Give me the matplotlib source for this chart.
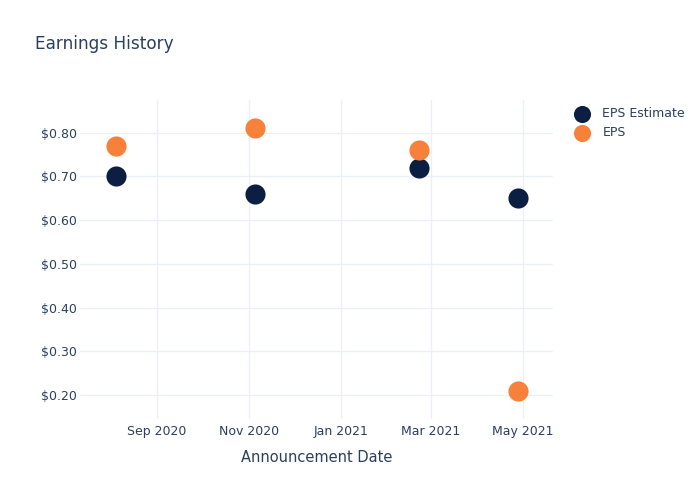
import matplotlib
matplotlib.use("Agg")
import matplotlib.pyplot as plt
import matplotlib.dates as mdates
import matplotlib.ticker as mticker
from datetime import datetime

dates = ["2020-08-05", "2020-11-05", "2021-02-21", "2021-04-28"]
eps_estimate = [0.70, 0.66, 0.72, 0.65]
eps_actual = [0.77, 0.81, 0.76, 0.21]
y_ticks = [0.20, 0.30, 0.40, 0.50, 0.60, 0.70, 0.80]
x_ticks = ["2020-09-01", "2020-11-01", "2021-01-01", "2021-03-01", "2021-05-01"]

text_color = "#2a3f5f"
grid_color = "#ebf0f8"
navy = "#0c1f42"
orange = "#f7803a"

plt.rcParams['font.family'] = ['DejaVu Sans']

fig = plt.figure(figsize=(7, 5), dpi=100)
ax = fig.add_axes([80/700, 1-419/500, (553-80)/700, (419-100)/500])

d = [datetime.strptime(s, "%Y-%m-%d") for s in dates]
ax.scatter(d, eps_estimate, s=210, color=navy, label="EPS Estimate", zorder=3, linewidths=0)
ax.scatter(d, eps_actual, s=210, color=orange, label="EPS", zorder=3, linewidths=0)

ax.set_xlim(datetime(2020, 7, 12), datetime(2021, 5, 21))
ax.set_ylim(0.145, 0.875)
ax.set_xticks([datetime.strptime(s, "%Y-%m-%d") for s in x_ticks])
ax.xaxis.set_major_formatter(mdates.DateFormatter("%b %Y"))
ax.set_yticks(y_ticks)
ax.yaxis.set_major_formatter(mticker.FuncFormatter(lambda v, p: f"${v:.2f}"))

ax.grid(True, color=grid_color, linewidth=1, zorder=0)
ax.set_axisbelow(True)
for sp in ax.spines.values():
    sp.set_visible(False)
ax.tick_params(axis='y', length=0, labelsize=9, colors=text_color, pad=2)
ax.tick_params(axis='x', length=0, labelsize=9, colors=text_color, pad=4)

ax.set_xlabel("Announcement Date", fontsize=10.5, color=text_color, labelpad=9)
fig.text(35/700, 1-44/500, "Earnings History", fontsize=12.2, color=text_color, va='center', ha='left')

leg = ax.legend(loc='upper left', bbox_to_anchor=(1.025, 0.993), frameon=False, fontsize=9,
                labelcolor=text_color, handletextpad=0.6, borderaxespad=0, labelspacing=0.5,
                markerscale=0.85)

fig.savefig("out.png", dpi=100)
